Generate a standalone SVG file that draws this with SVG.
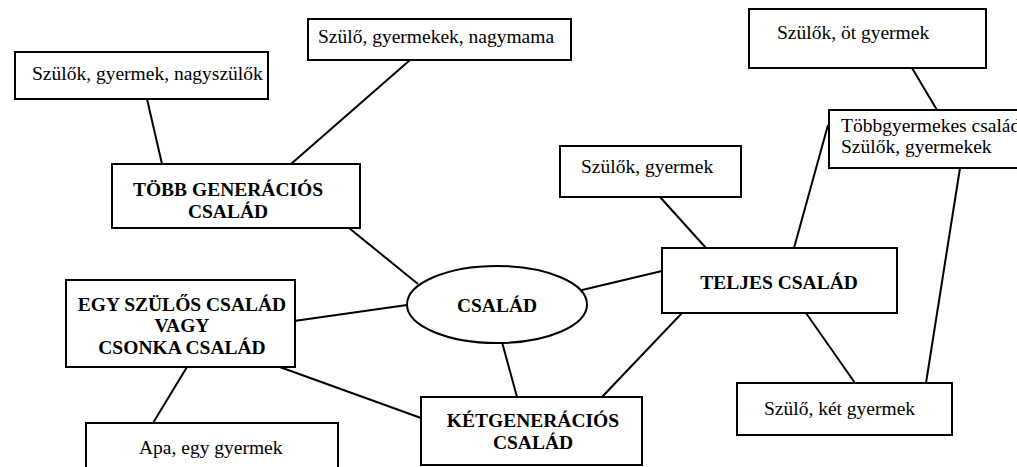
<svg xmlns="http://www.w3.org/2000/svg" width="1017" height="467" viewBox="0 0 1017 467">
<style>
.box{fill:#fff;stroke:#000;stroke-width:2}
.t{font-family:"Liberation Serif","Times New Roman",serif;font-size:19.5px;fill:#000}
.b{font-weight:bold;text-anchor:middle}
#connectors line{stroke:#000;stroke-width:2}
</style>
<rect width="1017" height="467" fill="#fff"/>
<g id="connectors">
<line x1="147" y1="99" x2="162" y2="164"/>
<line x1="410" y1="60" x2="291" y2="164"/>
<line x1="349" y1="228" x2="418" y2="284"/>
<line x1="294" y1="321" x2="407" y2="305"/>
<line x1="582" y1="290" x2="662" y2="271"/>
<line x1="502" y1="342" x2="517" y2="397"/>
<line x1="277" y1="366" x2="421" y2="418"/>
<line x1="187" y1="367" x2="153" y2="423"/>
<line x1="682" y1="313" x2="602" y2="397"/>
<line x1="660" y1="197" x2="706" y2="248"/>
<line x1="794" y1="248" x2="828" y2="125"/>
<line x1="912" y1="68" x2="937" y2="110"/>
<line x1="960" y1="168" x2="926" y2="383"/>
<line x1="806" y1="313" x2="855" y2="383"/>
</g>
<g id="n-nagyszulok">
<rect class="box" x="15" y="52" width="253" height="47"/>
<text class="t" x="32" y="80">Szülők, gyermek, nagyszülők</text>
</g>
<g id="n-nagymama">
<rect class="box" x="308" y="19" width="263" height="41"/>
<text class="t" x="318" y="43">Szülő, gyermekek, nagymama</text>
</g>
<g id="n-tobb">
<rect class="box" x="112" y="164" width="248" height="64"/>
<text class="t b" x="228" y="196">TÖBB GENERÁCIÓS</text>
<text class="t b" x="228" y="218">CSALÁD</text>
</g>
<g id="n-egy">
<rect class="box" x="66" y="280" width="229" height="87"/>
<text class="t b" x="182" y="311">EGY SZÜLŐS CSALÁD</text>
<text class="t b" x="182" y="332">VAGY</text>
<text class="t b" x="182" y="354">CSONKA CSALÁD</text>
</g>
<g id="n-apa">
<rect class="box" x="86" y="423" width="252" height="60"/>
<text class="t" x="139" y="454">Apa, egy gyermek</text>
</g>
<g id="n-csalad">
<ellipse class="box" cx="497" cy="304.5" rx="90" ry="38.5"/>
<text class="t b" x="497" y="312">CSALÁD</text>
</g>
<g id="n-ketgen">
<rect class="box" x="421" y="397" width="221" height="68"/>
<text class="t b" x="533" y="427">KÉTGENERÁCIÓS</text>
<text class="t b" x="533" y="449">CSALÁD</text>
</g>
<g id="n-teljes">
<rect class="box" x="662" y="248" width="235" height="65"/>
<text class="t b" x="779" y="289">TELJES CSALÁD</text>
</g>
<g id="n-gyermek">
<rect class="box" x="560" y="146" width="181" height="51"/>
<text class="t" x="581" y="173">Szülők, gyermek</text>
</g>
<g id="n-ot">
<rect class="box" x="749" y="9" width="237" height="59"/>
<text class="t" x="777" y="39">Szülők, öt gyermek</text>
</g>
<g id="n-tobbgyermekes">
<rect class="box" x="829" y="110" width="220" height="58"/>
<text class="t" x="841" y="132">Többgyermekes család</text>
<text class="t" x="841" y="153">Szülők, gyermekek</text>
</g>
<g id="n-ketgyermek">
<rect class="box" x="737" y="383" width="215" height="52"/>
<text class="t" x="764" y="415">Szülő, két gyermek</text>
</g>
</svg>
